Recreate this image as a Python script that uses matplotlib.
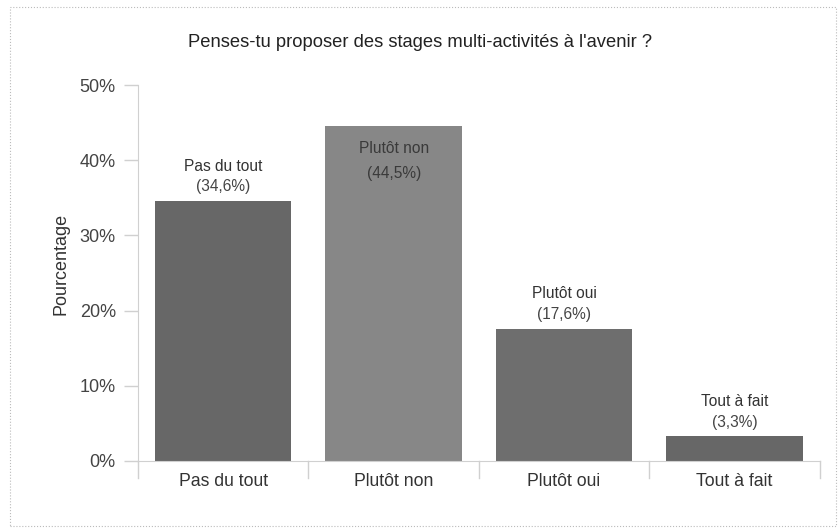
import matplotlib.pyplot as plt
from matplotlib.patches import Rectangle
from matplotlib.ticker import FuncFormatter

plt.rcParams["font.family"] = ["Liberation Sans", "DejaVu Sans"]

# data
categories = ["Pas du tout", "Plutôt non", "Plutôt oui", "Tout à fait"]
values = [34.6, 44.5, 17.6, 3.3]
bar_colors = ["#676767", "#878787", "#6e6e6e", "#676767"]
title = "Penses-tu proposer des stages multi-activités à l'avenir ?"

fig = plt.figure(figsize=(8.39, 5.32), dpi=100)
ax = fig.add_axes([0.1645, 0.1335, 0.8125, 0.7065])

x = range(len(categories))
bars = ax.bar(x, values, width=0.8, color=bar_colors, zorder=2)

ax.set_xlim(-0.5, len(categories) - 0.5)
ax.set_ylim(0, 50)
ax.set_yticks(range(0, 51, 10))
ax.yaxis.set_major_formatter(FuncFormatter(lambda v, p: f"{v:.0f}%"))
ax.set_xticks(list(x))
ax.set_xticklabels(categories)
ax.tick_params(axis="x", length=0, pad=9, labelsize=12.7, labelcolor="#333333")
ax.tick_params(axis="y", length=10, width=1, color="#d0d0d0", pad=6,
               labelsize=13, labelcolor="#444444")

# separators between categories under the x axis
for b in [i - 0.5 for i in range(len(categories) + 1)]:
    ax.plot([b, b], [0, -0.045], transform=ax.get_xaxis_transform(),
            color="#d0d0d0", lw=1, clip_on=False)

for side in ["top", "right"]:
    ax.spines[side].set_visible(False)
ax.spines["left"].set_color("#d0d0d0")
ax.spines["bottom"].set_color("#d0d0d0")
ax.spines["left"].set_bounds(0, 50)

ax.set_ylabel("Pourcentage", fontsize=13, color="#333333")
ax.yaxis.set_label_coords(-0.1, 0.525)

# labels above or inside the bars
for rect, cat, val in zip(bars, categories, values):
    cx = rect.get_x() + rect.get_width() / 2
    pct = f"({val:.1f}%)".replace(".", ",")
    if val + 6 > 50:
        ax.annotate(cat, (cx, val), xytext=(0, -16), textcoords="offset points",
                    ha="center", va="center", fontsize=11.2, color="#3a3a3a")
        ax.annotate(pct, (cx, val), xytext=(0, -34), textcoords="offset points",
                    ha="center", va="center", fontsize=11.2, color="#3a3a3a")
    else:
        ax.annotate(cat, (cx, val), xytext=(0, 25), textcoords="offset points",
                    ha="center", va="center", fontsize=11.2, color="#333333")
        ax.annotate(pct, (cx, val), xytext=(0, 10), textcoords="offset points",
                    ha="center", va="center", fontsize=11.2, color="#444444")

fig.text(0.5, 0.921, title, ha="center", va="center", fontsize=13.2,
         color="#222222")

# dotted frame around the chart
fig.patches.append(Rectangle((0.012, 0.012), 0.985, 0.975, transform=fig.transFigure,
                             fill=False, ls=":", lw=0.8, ec="#bbbbbb"))

fig.savefig("out.png", dpi=100)
